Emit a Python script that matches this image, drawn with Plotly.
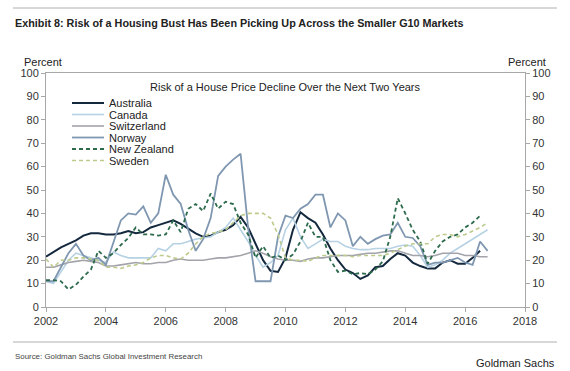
import plotly.graph_objects as go

# ---------------- data (quarterly, decimal years) ----------------
quarters = [2002.0 + q / 4 for q in range(60)]  # 2002Q1 .. 2016Q4 positions

australia = [21.5, 23.5, 25.5, 27, 28.5, 30.5, 31.5, 31.5,
             31, 31, 31.5, 32.5, 31.5, 32, 34, 35,
             36, 37, 35.5, 33.5, 31.5, 30, 30.5, 32,
             33, 35, 38.5, 34, 27, 20, 15.5, 15,
             21, 33, 40.5, 38, 36, 31, 25, 20,
             16, 14.5, 12, 13.5, 17, 17.5, 20.5, 23,
             22, 19, 17.5, 16.5, 16.5, 19, 20, 18.5,
             18.5, 21, 24]
canada = [11, 10, 15, 20, 23, 22, 21, 20,
          19, 23.5, 22, 21, 21, 21, 21, 25,
          24, 27, 27, 28, 29, 29.5, 30, 32,
          34, 38, 33, 28, 22, 17, 19, 22,
          33, 38, 30, 25, 27, 29, 28, 28,
          26, 25, 24.5, 24.5, 25, 25, 25, 26,
          26.5, 26, 22, 17, 18, 20, 23, 25,
          27, 29, 31, 33]
switzerland = [17, 17, 18, 19, 19.5, 20, 19.5, 19,
               17.5, 17.5, 18, 18.5, 19, 18.5, 18.5, 19,
               19, 20, 20.5, 20, 20, 20, 20.5, 21,
               21, 21.5, 22, 23, 24, 23, 21.5, 20.5,
               20, 20, 19.5, 20.5, 21, 21, 21.5, 22,
               22, 22, 22.5, 23, 23, 23.5, 24, 24,
               23, 22, 22, 21.5, 22, 23, 23, 23,
               22, 22, 21.5, 21.5]
norway = [11, 11, 17, 23, 27, 22, 20, 21,
          18, 28, 37, 40, 39.5, 43, 36, 40,
          56.5, 48, 44, 33, 24, 29, 38, 56,
          60, 63, 65.5, 34, 11, 11, 11, 30,
          39, 38, 42, 44, 48, 48, 34, 40,
          37, 26, 30, 27, 29, 30.5, 31, 36,
          30, 29.5, 26, 18, 19, 19, 20, 21,
          19, 18, 28, 24]
new_zealand = [11.5, 11.5, 11, 7.5, 9.5, 13, 16, 24,
               21, 23, 26.5, 29.5, 34, 31, 31, 30.5,
               31, 37, 32, 42, 44, 41, 48.5, 42,
               45, 44, 36, 31, 21, 26, 21, 22,
               20, 22.5, 28, 36, 30, 30, 20, 15,
               15.5, 14, 14.5, 14, 16, 19.5, 30, 46.5,
               40, 33, 28, 18.5, 24, 28, 30, 31,
               34, 36, 39]
sweden = [20.5, 17, 20, 20, 21, 21, 20.5, 20,
          17, 17, 16.5, 17.5, 18, 19, 21, 22,
          22, 21, 20.5, 23, 27, 30, 31.5, 32,
          33, 36, 39, 40, 40, 40, 38, 31,
          21, 20, 20, 19.5, 21, 22, 22, 22,
          22, 21.5, 22, 22, 22, 22, 23, 24.5,
          26, 27, 27, 27, 30, 31, 31, 30,
          31, 32.5, 34, 36]

series_names = ["Australia", "Canada", "Switzerland", "Norway", "New Zealand", "Sweden"]
series_values = [australia, canada, switzerland, norway, new_zealand, sweden]
x_ticks = [2002, 2004, 2006, 2008, 2010, 2012, 2014, 2016, 2018]
y_ticks = [0, 10, 20, 30, 40, 50, 60, 70, 80, 90, 100]

# ---------------- styles ----------------
colors = ["#14283e", "#b7d2e4", "#a3a4ab", "#7f97b0", "#2c6a4c", "#bccb8c"]
dashes = ["solid", "solid", "solid", "solid", "4px,3px", "4px,3px"]
widths = [2.0, 1.6, 1.6, 1.8, 1.8, 1.6]

W, H = 570, 371
L, R, T, B = 46, 525, 73, 307  # plot-area pixel box


def px(x):
    return (x - L) / (R - L)


def py(y):
    return (B - y) / (B - T)


FONT = "Arial, Liberation Sans, sans-serif"

fig = go.Figure()
for name, vals, c, d, w in zip(series_names, series_values, colors, dashes, widths):
    fig.add_trace(go.Scatter(x=quarters[:len(vals)], y=vals, mode="lines", name=name,
                             line=dict(color=c, width=w, dash=d), showlegend=False))
# dummy trace for right axis
fig.add_trace(go.Scatter(x=[None], y=[None], yaxis="y2", showlegend=False, hoverinfo="skip"))

axis_col = "#a8a8a8"
fig.update_layout(
    width=W, height=H,
    margin=dict(l=L, r=W - R, t=T, b=H - B, pad=0),
    paper_bgcolor="white", plot_bgcolor="white",
    font=dict(family=FONT, size=11, color="#222"),
    xaxis=dict(range=[2002, 2018], tickvals=x_ticks, ticktext=[str(v) for v in x_ticks],
               showgrid=False, zeroline=False, showline=True, linecolor=axis_col, linewidth=1,
               mirror=True, ticks="outside", ticklen=4, tickcolor=axis_col,
               tickfont=dict(size=11, color="#333")),
    yaxis=dict(range=[0, 100], tickvals=y_ticks, showgrid=False, zeroline=False,
               showline=True, linecolor=axis_col, linewidth=1, ticks="outside", ticklen=4,
               tickcolor=axis_col, tickfont=dict(size=11, color="#333")),
    yaxis2=dict(range=[0, 100], tickvals=y_ticks, overlaying="y", side="right",
                showgrid=False, zeroline=False, showline=True, linecolor=axis_col,
                linewidth=1, ticks="outside", ticklen=4, tickcolor=axis_col,
                tickfont=dict(size=11, color="#333")),
)

shapes = [
    dict(type="line", xref="paper", yref="paper", x0=px(13), x1=px(557), y0=py(8), y1=py(8),
         line=dict(color="#b0b0b0", width=1)),
    dict(type="line", xref="paper", yref="paper", x0=px(13), x1=px(557), y0=py(342), y1=py(342),
         line=dict(color="#b0b0b0", width=1)),
]
annotations = [
    dict(text="<b>Exhibit 8: Risk of a Housing Bust Has Been Picking Up Across the Smaller G10 Markets</b>",
         x=px(13), y=py(23), xanchor="left", yanchor="middle",
         font=dict(size=10.8, color="#222")),
    dict(text="Percent", x=px(43), y=py(62), xanchor="center", yanchor="middle",
         font=dict(size=11, color="#222")),
    dict(text="Percent", x=px(527), y=py(62), xanchor="center", yanchor="middle",
         font=dict(size=11, color="#222")),
    dict(text="Risk of a House Price Decline Over the Next Two Years", x=px(285), y=py(87),
         xanchor="center", yanchor="middle", font=dict(size=11, color="#222")),
    dict(text="Source: Goldman Sachs Global Investment Research", x=px(13), y=py(356),
         xanchor="left", yanchor="middle", font=dict(size=7.9, color="#444")),
    dict(text="Goldman Sachs", x=px(557), y=py(363), xanchor="right", yanchor="middle",
         font=dict(size=11, color="#222")),
]

# manual compact legend
for i, (name, c, d, w) in enumerate(zip(series_names, colors, dashes, widths)):
    yy = 103 + i * 11.5
    shapes.append(dict(type="line", xref="paper", yref="paper", x0=px(72), x1=px(104),
                       y0=py(yy), y1=py(yy), line=dict(color=c, width=w, dash=d)))
    annotations.append(dict(text=name, x=px(107), y=py(yy), xanchor="left", yanchor="middle",
                            font=dict(size=11, color="#222")))

for a in annotations:
    a.update(xref="paper", yref="paper", showarrow=False)

fig.update_layout(shapes=shapes, annotations=annotations)
fig.write_html("out.html", config={"displayModeBar": False},
               post_script="document.body.style.margin='0';document.body.style.padding='0';")
